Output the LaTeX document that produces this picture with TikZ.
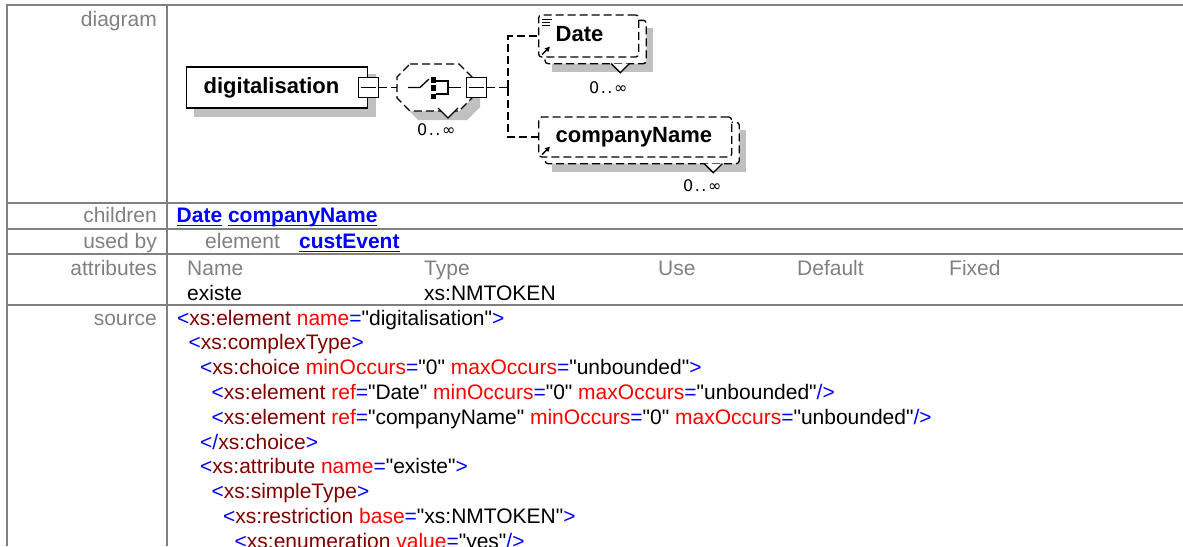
\documentclass[tikz,border=0pt]{standalone}
\usepackage{fontspec}
\setmainfont{Liberation Sans}
\newfontfamily\occfont{DejaVu Sans}
\usetikzlibrary{arrows.meta,backgrounds}

\definecolor{rulegray}{RGB}{128,128,128}
\definecolor{shadegray}{RGB}{192,192,192}
\definecolor{linkblue}{RGB}{0,0,255}
\definecolor{tagred}{RGB}{128,0,0}
\definecolor{attred}{RGB}{255,0,0}

\newcommand{\sy}[1]{\textcolor{linkblue}{#1}}
\newcommand{\tg}[1]{\textcolor{tagred}{#1}}
\newcommand{\at}[1]{\textcolor{attred}{#1}}
\newcommand{\dq}{\XeTeXglyph\XeTeXcharglyph"22\relax}
\newcommand{\val}[1]{\dq#1\dq}
\newcommand{\lnk}[1]{\textcolor{linkblue}{\bfseries\setbox0\hbox{#1}\rlap{\rule[-3.6pt]{\wd0}{1.6pt}}\box0}}
\newcommand{\occ}{0\kern1.5pt.\kern1.5pt.\kern1.5pt∞}

\begin{document}
\begin{tikzpicture}[x=1pt,y=-1pt,
    font=\fontsize{21}{24.5}\selectfont,
    rule/.style={rulegray,line width=2pt},
    rowlabel/.style={anchor=base east,inner sep=0pt,text=rulegray},
    cell/.style={anchor=base west,inner sep=0pt},
    head/.style={cell,text=rulegray},
    elbox/.style={draw,fill=white,line width=1.3pt,anchor=west,inner xsep=17pt,
      minimum height=41pt,align=left,text height=16pt,text depth=5pt,
      font=\fontsize{22}{22}\selectfont\bfseries},
    optbox/.style={elbox,dash pattern=on 8pt off 4pt,rounded corners=3pt},
    minusbox/.style={draw,fill=white,line width=1.3pt,minimum size=20pt,inner sep=0pt},
    optline/.style={line width=1.3pt,dash pattern=on 8pt off 4pt},
    shade/.style={fill=shadegray},
    occurs/.style={anchor=base west,inner sep=0pt,font=\fontsize{16}{16}\occfont},
  ]
  \clip (0,0) rectangle (1183,546);

  % table rules
  \foreach \y in {5,202.7,228.8,254.4,305}
    \draw[rule] (6,\y) -- (1183,\y);
  \draw[rule] (7,4) -- (7,546);
  \draw[rule] (167,4) -- (167,546);

  \node[rowlabel] (ldiagram) at (157,26) {diagram};
  \node[rowlabel] (lchildren) at (157,222.5) {children};
  \node[rowlabel] (lusedby) at (157,248.5) {used by};
  \node[rowlabel] (lattr) at (157,275) {attributes};
  \node[rowlabel] (lsource) at (157,325) {source};

  \node[cell] (childlinks) at (176.5,222.5) {\lnk{Date} \lnk{companyName}};
  \node[head] (usedkind) at (205,248.5) {element};
  \node[cell] (usedlink) at (299,248.5) {\lnk{custEvent}};
  \node[head] (hname) at (187,275) {Name};
  \node[head] (htype) at (424,275) {Type};
  \node[head] (huse) at (658,275) {Use};
  \node[head] (hdefault) at (797,275) {Default};
  \node[head] (hfixed) at (949,275) {Fixed};
  \node[cell] (aname) at (187,300) {existe};
  \node[cell] (atype) at (424,300) {xs:NMTOKEN};

  % source
  \node[cell] (s1) at (177,325) {\sy{<}\tg{xs:element} \at{name}\sy{=}\val{digitalisation}\sy{>}};
  \node[cell] (s2) at (188.5,349.8) {\sy{<}\tg{xs:complexType}\sy{>}};
  \node[cell] (s3) at (200,374.6) {\sy{<}\tg{xs:choice} \at{minOccurs}\sy{=}\val{0} \at{maxOccurs}\sy{=}\val{unbounded}\sy{>}};
  \node[cell] (s4) at (211.5,399.4) {\sy{<}\tg{xs:element} \at{ref}\sy{=}\val{Date} \at{minOccurs}\sy{=}\val{0} \at{maxOccurs}\sy{=}\val{unbounded}\sy{/>}};
  \node[cell] (s5) at (211.5,424.2) {\sy{<}\tg{xs:element} \at{ref}\sy{=}\val{companyName} \at{minOccurs}\sy{=}\val{0} \at{maxOccurs}\sy{=}\val{unbounded}\sy{/>}};
  \node[cell] (s6) at (200,449) {\sy{</}\tg{xs:choice}\sy{>}};
  \node[cell] (s7) at (200,473.8) {\sy{<}\tg{xs:attribute} \at{name}\sy{=}\val{existe}\sy{>}};
  \node[cell] (s8) at (211.5,498.6) {\sy{<}\tg{xs:simpleType}\sy{>}};
  \node[cell] (s9) at (223,523.4) {\sy{<}\tg{xs:restriction} \at{base}\sy{=}\val{xs:NMTOKEN}\sy{>}};
  \node[cell] (s10) at (234.5,548.2) {\sy{<}\tg{xs:enumeration} \at{value}\sy{=}\val{yes}\sy{/>}};

  % diagram
  \node[elbox,text width=147pt] (digit) at (186,87.5) {digitalisation};
  \node[minusbox] (dminus) at (digit.east) {};
  \draw[line width=1.3pt] ([xshift=3pt]dminus.west) -- ([xshift=-3pt]dminus.east);

  \node[minimum width=75pt,minimum height=47pt,inner sep=0pt] (choice) at (434.5,87.5) {};
  \draw[optline,fill=white] (410,64) -- (459,64) -- (472,77) -- (472,98) -- (459,111)
    -- (410,111) -- (397,98) -- (397,77) -- cycle;
  \draw[line width=1.3pt] (408,87.5) -- (420,87.5) -- (429,79);
  \foreach \y in {77,85,93.5}
    \fill (431,\y) rectangle (436,\y+5.5);
  \draw[line width=1.3pt] (436,81) -- (448,81) -- (448,94) -- (436,94) (448,87.5) -- (461,87.5);
  \draw[line width=1.3pt,fill=white] (438,108) -- (448,118) -- (458,108);
  \node[minusbox] (cminus) at ([xshift=4pt]choice.east) {};
  \draw[line width=1.3pt] ([xshift=3pt]cminus.west) -- ([xshift=-3pt]cminus.east);
  \node[occurs] (occchoice) at (417,135) {\occ};

  \node[optbox,text width=66pt,minimum height=42pt] (date) at (538,36) {Date};
  \node[optbox,text width=159pt,minimum height=40pt] (cname) at (538,137) {companyName};

  \foreach \dy/\len in {5/10,8/8,11/8}
    \draw[line width=1pt] ([shift={(4,\dy)}]date.north west) -- ++(\len,0);
  \draw[-{Triangle[length=5pt,width=5pt]},line width=1.3pt] ([shift={(4,-3)}]date.south west) -- ++(8,-8);
  \draw[-{Triangle[length=5pt,width=5pt]},line width=1.3pt] ([shift={(4,-3)}]cname.south west) -- ++(8,-8);
  \draw[line width=1.3pt,fill=white] ([shift={(-28,6)}]date.south east) -- ++(9,9) -- ++(9,-9);
  \draw[line width=1.3pt,fill=white] ([shift={(-28,6)}]cname.south east) -- ++(9,9) -- ++(9,-9);
  \node[occurs] (occdate) at (589,93) {\occ};
  \node[occurs] (occcname) at (683,191.5) {\occ};

  \coordinate (fork) at (508,87.5);
  \draw[optline] (dminus) -- (choice);
  \draw[optline] (cminus) -- (fork);
  \draw[optline] (fork) |- (date);
  \draw[optline] (fork) |- (cname);

  \begin{scope}[on background layer]
    \fill[shade] ([shift={(8,8)}]digit.north west) rectangle ([shift={(8,8)}]digit.south east);
    \fill[shade] (418,73) -- (467,73) -- (480,86) -- (480,107) -- (467,120)
      -- (418,120) -- (405,107) -- (405,86) -- cycle;
    \fill[shade] ([shift={(14,14)}]date.north west) rectangle ([shift={(14,14)}]date.south east);
    \draw[optline,fill=white,rounded corners=3pt] ([shift={(7,6)}]date.north west) rectangle ([shift={(7,6)}]date.south east);
    \fill[shade] ([shift={(14,14)}]cname.north west) rectangle ([shift={(14,14)}]cname.south east);
    \draw[optline,fill=white,rounded corners=3pt] ([shift={(7,6)}]cname.north west) rectangle ([shift={(7,6)}]cname.south east);
  \end{scope}
\end{tikzpicture}
\end{document}
